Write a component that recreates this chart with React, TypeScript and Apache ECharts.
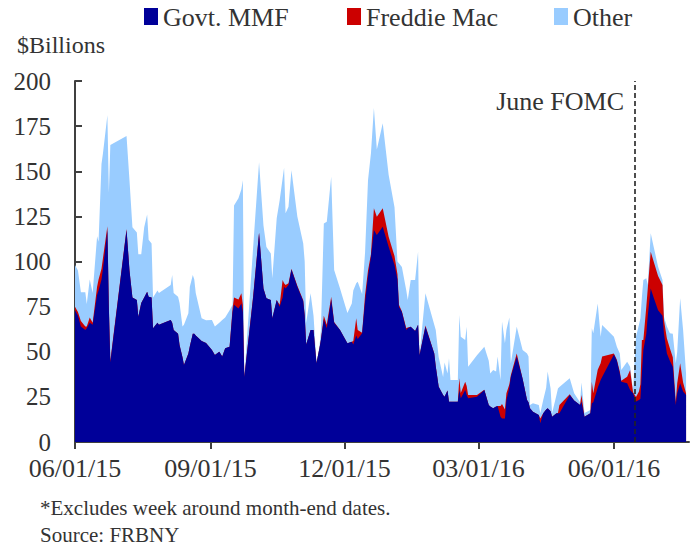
import React, { useEffect, useRef } from "react";
import * as echarts from "echarts";

// Observation dates (month-end weeks excluded)
const dates = [
  "2015-06-01","2015-06-03","2015-06-05","2015-06-08","2015-06-09","2015-06-11","2015-06-13","2015-06-16","2015-06-17","2015-06-19",
  "2015-06-20","2015-06-23","2015-06-24","2015-06-25","2015-07-06","2015-07-08","2015-07-10","2015-07-13","2015-07-14","2015-07-16",
  "2015-07-18","2015-07-20","2015-07-21","2015-07-23","2015-07-24","2015-07-27","2015-07-28","2015-08-05","2015-08-06","2015-08-07",
  "2015-08-10","2015-08-11","2015-08-13","2015-08-14","2015-08-17","2015-08-18","2015-08-20","2015-08-21","2015-08-22","2015-08-26",
  "2015-08-29","2015-09-02","2015-09-04","2015-09-07","2015-09-09","2015-09-11","2015-09-14","2015-09-16","2015-09-17","2015-09-20",
  "2015-09-22","2015-09-23","2015-09-24","2015-09-30","2015-10-04","2015-10-07","2015-10-09","2015-10-12","2015-10-13","2015-10-16",
  "2015-10-18","2015-10-20","2015-10-21","2015-10-22","2015-10-24","2015-10-26","2015-10-30","2015-11-03","2015-11-04","2015-11-05",
  "2015-11-08","2015-11-10","2015-11-12","2015-11-14","2015-11-15","2015-11-17","2015-11-19","2015-11-22","2015-11-24","2015-11-28",
  "2015-12-03","2015-12-06","2015-12-07","2015-12-09","2015-12-10","2015-12-13","2015-12-15","2015-12-17","2015-12-19","2015-12-21",
  "2015-12-23","2015-12-27","2015-12-31","2016-01-04","2016-01-06","2016-01-07","2016-01-09","2016-01-12","2016-01-13","2016-01-15",
  "2016-01-18","2016-01-20","2016-01-21","2016-01-25","2016-01-31","2016-02-01","2016-02-03","2016-02-06","2016-02-07","2016-02-09",
  "2016-02-10","2016-02-11","2016-02-16","2016-02-17","2016-02-18","2016-02-21","2016-02-22","2016-02-23","2016-02-29","2016-03-05",
  "2016-03-08","2016-03-09","2016-03-11","2016-03-13","2016-03-14","2016-03-16","2016-03-17","2016-03-19","2016-03-20","2016-03-22",
  "2016-03-23","2016-03-27","2016-03-31","2016-04-03","2016-04-04","2016-04-05","2016-04-07","2016-04-11","2016-04-12","2016-04-14",
  "2016-04-16","2016-04-17","2016-04-19","2016-04-20","2016-04-23","2016-04-24","2016-04-25","2016-05-02","2016-05-05","2016-05-09",
  "2016-05-10","2016-05-12","2016-05-16","2016-05-17","2016-05-18","2016-05-21","2016-05-23","2016-05-24","2016-06-01","2016-06-03",
  "2016-06-05","2016-06-06","2016-06-10","2016-06-12","2016-06-14","2016-06-16","2016-06-18","2016-06-19","2016-06-20","2016-06-21",
  "2016-06-23","2016-06-24","2016-06-26","2016-06-28","2016-07-01","2016-07-04","2016-07-05","2016-07-07","2016-07-09","2016-07-11",
  "2016-07-13","2016-07-14","2016-07-16","2016-07-18","2016-07-20"
];

const govtMMF = [
  73,70,64,62,63,66,65,81.5,84,90,
  96,117.5,74,44,117.5,95,80,78.7,69.4,77,
  80,83.3,80.5,80,63,66,65,67.6,66,62,
  60,53.7,47,42.7,49,53,60,60,59,56,
  54.8,51,48.2,50,47.3,51.9,52.8,72,76,74,
  76.8,72,36,80,115.6,85,79.6,78.7,68.5,78.7,
  75,80,86,85,87,95.5,86,78,70,54,
  62,62,43.6,52,56.5,68,63,79,66,62,
  54.7,55.6,54,59,57,60.2,77.7,92,102.7,117.5,
  114.7,119.3,108.2,98,90,75,72,62,63,63.9,
  61.5,65,48,63.9,49,42,30.6,26,25.1,28.5,
  22.3,22.3,22.3,28.8,24.3,28.8,26,24.3,25.1,28.8,
  20.5,19.6,18.7,19.6,20,14,13,13,23.3,30,
  36,47.3,35,23.3,22,18.7,16.8,15,10.4,15.9,
  18,18.7,17,14,15.9,15.9,15.9,26,23,20.5,
  22.3,14,15.9,21.4,22,30,34.3,36,48.5,45,
  38,33.4,32.5,28.8,27,22.5,23.3,24,38,51,
  60,70,85.1,80,73,70,60,49,45,41.7,
  20.5,27,32.5,28,26
];

const freddieMac = [
  2,2,3,2,1,3,1,4.5,6,6,
  6,2,1,1,0.5,0,0,0,0,0,
  0,0,0,0,0,0,0,0,0,0,
  0,0,0,0,0,0,0,0,0,0,
  0,0,0,0,0,0,0,2,4,5,
  5.6,4,0,1,0.4,0,0,0,0,0,
  1,9.8,2,2,1,0.5,0.5,0.5,0.5,0,
  0,0,0,0,0,2,2,1.5,0.5,0,
  0,0,2,9.5,5,0.3,3.7,3,1.3,12,
  10.1,10.2,5.5,5,3,1,0.5,1,0.5,0,
  0,0,0,0.6,0,0,0,0,0,0,
  0,0,0,6.5,2.8,4.6,5,1.7,0.9,0.2,
  0,0,0,0,0,6,8,5,3.7,2,
  1,1.7,0,0,0,0,0,0,2.6,0,
  0,0,0,0,0,0.1,4.6,0.5,0,0,
  3.7,0,0,12,5,10,9.3,11.3,0.5,0.5,
  1,0.6,3.7,11.1,0.5,2.5,4.7,8,18.5,5.5,
  15,15,20.3,20,19,17,7.6,8.4,7,5.3,
  1.5,5.5,11.1,5,1
];

const other = [
  23,23,16,19,12.5,21,16.5,28,21,58,
  58,61.5,63,119.5,51.5,50,39,37.3,34.6,27,
  39,42.7,31.5,30,17,18,17.5,19.4,26.5,20.5,
  20.5,23.3,17,22.3,22.3,33,32.5,30,23.5,12.5,
  12.7,16.6,15.8,16,20.3,17.1,20.2,2,51,56,
  57.6,69,0,27,39,35,28.4,25.8,22.2,45.3,
  58,56.2,64,39.7,42.4,54.5,38.5,31.5,29.5,12,
  20.4,8,0.9,0.8,5.5,51,57,66.5,28.8,23,
  16.8,21.2,28,19.5,26.8,21.5,23.6,50,56,55.5,
  37.2,47.1,34.3,27,7,23,24.5,21,15.2,25.9,
  28.3,40.4,0.5,17.9,16,20,16.4,10,18.9,9.5,
  24.1,12,12,35.1,31.2,23.1,32.9,15.7,22,23.8,
  24.5,18.4,21.2,19.4,27.3,14.3,45.7,36.7,35,37,
  6.6,14.9,16,25.7,25.3,1.8,4.6,5.5,2.9,7.4,
  12,20.3,12.7,1.9,10.1,13.7,10,8.8,4,1.5,
  7,2,1.8,29.6,33.2,36.8,14.7,17.5,9.3,7.3,
  10,5.9,8.3,1.8,1.3,33.3,37,36.5,23.5,33.3,
  15.7,2,10.2,8.2,5.1,2.8,1.8,6.6,8.2,13,
  21.6,17.5,36,29,11
];

const tickDates = ["2015-06-01", "2015-09-01", "2015-12-01", "2016-03-01", "2016-06-01"];
const tickLabels = ["06/01/15", "09/01/15", "12/01/15", "03/01/16", "06/01/16"];
const startDate = "2015-06-01";
const endDate = "2016-07-22";
const fomcDate = "2016-06-15";
const fomcLabel = "June FOMC";
const seriesNames = ["Govt. MMF", "Freddie Mac", "Other"];
const seriesColors = ["#000099", "#CC0000", "#99CCFF"];

const dayIndex = (s: string) =>
  Math.round((Date.parse(s + "T00:00:00Z") - Date.parse(startDate + "T00:00:00Z")) / 86400000);

const FONT = '"Liberation Serif", "Times New Roman", serif';
const TEXT = "#333333";

export default function App() {
  const ref = useRef<HTMLDivElement>(null);

  useEffect(() => {
    document.body.style.margin = "0";
    if (!ref.current) return;
    const chart = echarts.init(ref.current, undefined, { renderer: "svg" });
    const xs = dates.map(dayIndex);
    const tickVals = tickDates.map(dayIndex);

    // cumulative tops of the stack (drawn back to front)
    const topMMF = govtMMF.map((v) => v);
    const topFreddie = govtMMF.map((v, i) => v + freddieMac[i]);
    const topOther = govtMMF.map((v, i) => v + freddieMac[i] + other[i]);
    const tops = [topMMF, topFreddie, topOther];

    const mk = (k: number) => ({
      name: seriesNames[k],
      type: "line",
      symbol: "none",
      smooth: false,
      lineStyle: { width: 0, color: seriesColors[k] },
      areaStyle: { color: seriesColors[k], opacity: 1, origin: "start" },
      itemStyle: { color: seriesColors[k] },
      data: xs.map((x, i) => [x, tops[k][i]]),
    });
    const series: any[] = [mk(2), mk(1), mk(0)];
    series[2].markLine = {
      silent: true,
      symbol: "none",
      label: { show: false },
      lineStyle: { type: [5, 3], color: "#222222", width: 1.6 },
      data: [{ xAxis: dayIndex(fomcDate) }],
    };

    // legend drawn as swatch + text pairs
    const legendX = [144, 347, 554];
    const legendGraphics: any[] = [];
    seriesNames.forEach((n, k) => {
      legendGraphics.push({
        type: "rect",
        shape: { x: legendX[k], y: 8, width: 14, height: 17 },
        style: { fill: seriesColors[k] },
      });
      legendGraphics.push({
        type: "text",
        x: legendX[k] + 19,
        y: 17,
        style: { text: n, font: `26px ${FONT}`, fill: TEXT, verticalAlign: "middle", align: "left" },
      });
    });

    chart.setOption({
      animation: false,
      textStyle: { fontFamily: FONT },
      grid: { left: 75, right: 5, top: 81, bottom: 108, containLabel: false, outerBoundsMode: "none" },
      legend: { show: false, data: seriesNames },
      xAxis: {
        type: "value",
        min: 0,
        max: dayIndex(endDate),
        splitLine: { show: false },
        axisLine: { lineStyle: { color: "#404040", width: 2 } },
        axisTick: { show: true, inside: false, length: 7, customValues: tickVals, lineStyle: { color: "#404040", width: 2 } },
        axisLabel: {
          customValues: tickVals,
          fontFamily: FONT,
          fontSize: 26,
          color: TEXT,
          margin: 13,
          formatter: (v: number) => {
            const i = tickVals.indexOf(Math.round(v));
            return i >= 0 ? tickLabels[i] : "";
          },
        },
      },
      yAxis: {
        type: "value",
        min: 0,
        max: 200,
        interval: 25,
        splitLine: { show: false },
        axisLine: { show: true, lineStyle: { color: "#404040", width: 2 } },
        axisTick: { show: true, inside: true, length: 7, lineStyle: { color: "#404040", width: 2 } },
        axisLabel: { fontFamily: FONT, fontSize: 25, color: TEXT, margin: 24 },
      },
      graphic: [
        ...legendGraphics,
        { type: "text", left: 17, top: 33, style: { text: "$Billions", font: `24px ${FONT}`, fill: TEXT } },
        { type: "text", right: 70, top: 88, style: { text: fomcLabel, font: `26px ${FONT}`, fill: TEXT } },
        { type: "text", left: 40, top: 497, style: { text: "*Excludes week around month-end dates.", font: `21px ${FONT}`, fill: TEXT } },
        { type: "text", left: 40, top: 524, style: { text: "Source: FRBNY", font: `21px ${FONT}`, fill: TEXT } },
      ],
      series,
    });
    return () => chart.dispose();
  }, []);

  return <div ref={ref} style={{ width: 694, height: 550 }} />;
}
